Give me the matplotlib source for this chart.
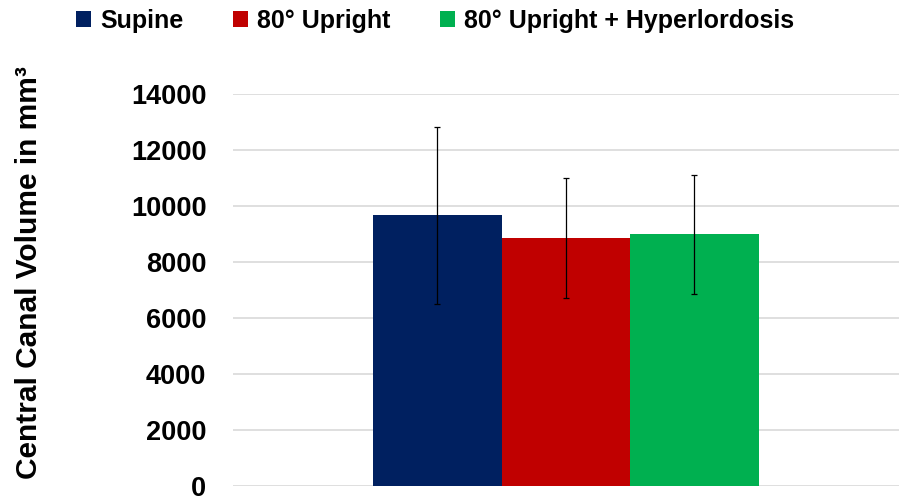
import matplotlib
matplotlib.use("Agg")
import matplotlib.pyplot as plt
from matplotlib.patches import Patch

# values (mean and error in mm³)
groups = ["Supine", "80° Upright", "80° Upright + Hyperlordosis"]
means = [9660, 8860, 8990]
errors = [3150, 2130, 2120]
colors = ["#002060", "#C00000", "#00B050"]
yticks = [0, 2000, 4000, 6000, 8000, 10000, 12000, 14000]

plt.rcParams["font.family"] = ["Liberation Sans", "DejaVu Sans"]
plt.rcParams["font.weight"] = "bold"

fig = plt.figure(figsize=(8.99, 4.97), dpi=100)
ax = fig.add_axes([0.259, 0.022, 0.741, 0.789])

w = 0.193
for i, (m, e, c) in enumerate(zip(means, errors, colors)):
    ax.bar((i - 1) * w, m, width=w, color=c, zorder=2)
    ax.errorbar((i - 1) * w, m, yerr=e, fmt="none", ecolor="black",
                elinewidth=0.9, capsize=2.5, capthick=0.9, zorder=3)

ax.set_xlim(-0.5, 0.5)
ax.set_ylim(0, 14000)
ax.set_yticks(yticks)
ax.set_yticklabels([str(t) for t in yticks], fontsize=19.5, fontweight="bold")
ax.set_xticks([])
ax.tick_params(axis="y", length=0, pad=19)
ax.yaxis.grid(True, color="#d9d9d9", linewidth=1.2, zorder=0)
for s in ax.spines.values():
    s.set_visible(False)

fig.text(0.032, 0.451, "Central Canal Volume in mm³", rotation=90,
         ha="center", va="center", fontsize=21.5, fontweight="bold")

handles = [Patch(facecolor=c, edgecolor="none") for c in colors]
fig.legend(handles, groups, loc="center", bbox_to_anchor=(0.484, 0.958),
           ncol=3, frameon=False, handlelength=0.6,
           handleheight=0.6, handletextpad=0.35, columnspacing=2.0,
           prop={"weight": "bold", "size": 18})

plt.savefig("out.png", dpi=100)
